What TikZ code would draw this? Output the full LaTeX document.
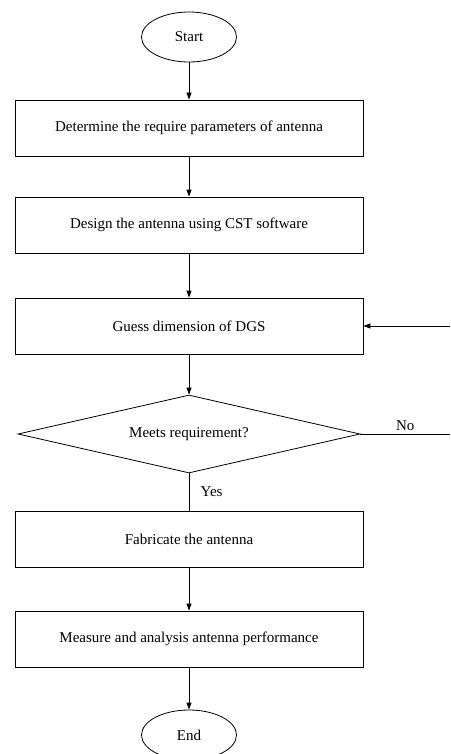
\documentclass[tikz,border=0pt]{standalone}
\usepackage{fontspec}
\setmainfont{Liberation Serif}
\usetikzlibrary{shapes.geometric,arrows.meta}

\begin{document}
\begin{tikzpicture}[x=1pt, y=-1pt, line width=0.8pt,
    every node/.style={font=\fontsize{15}{18}\selectfont},
    terminal/.style={ellipse, draw, minimum width=95pt, minimum height=50pt, inner sep=0pt},
    process/.style={rectangle, draw, minimum width=348pt, minimum height=56pt},
    decision/.style={diamond, draw, aspect=4.4, minimum width=342pt, minimum height=78pt, inner sep=0pt},
    flow/.style={-{Triangle[length=7pt,width=5pt]}}]
  \useasboundingbox (0,0) rectangle (450,754);

  % Steps of the flow, top to bottom
  \node[terminal] (start) at (189,37) {Start};
  \node[process] (param) at (189,128) {Determine the require parameters of antenna};
  \node[process] (design) at (189,225) {Design the antenna using CST software};
  \node[process] (guess) at (189,326) {Guess dimension of DGS};
  \node[decision] (meets) at (189,434) {Meets requirement?};
  \node[process] (fab) at (189,539) {Fabricate the antenna};
  \node[process] (measure) at (189,639) {Measure and analysis antenna performance};
  \node[terminal] (end) at (189,735) {End};

  % Main arrows
  \draw[flow] (start) -- (param);
  \draw[flow] (param) -- (design);
  \draw[flow] (design) -- (guess);
  \draw[flow] (guess) -- (meets);
  \draw (meets) -- (fab) node[midway, right, xshift=8pt] (yes) {Yes};
  \draw[flow] (fab) -- (measure);
  \draw[flow] (measure) -- (end);

  % Loop back on the right side
  \coordinate (noend) at (450,434);
  \coordinate (backin) at (450,326);
  \draw (meets.east) -- (noend) node[midway, above] (no) {No};
  \draw[flow] (backin) -- (guess.east);
\end{tikzpicture}
\end{document}
